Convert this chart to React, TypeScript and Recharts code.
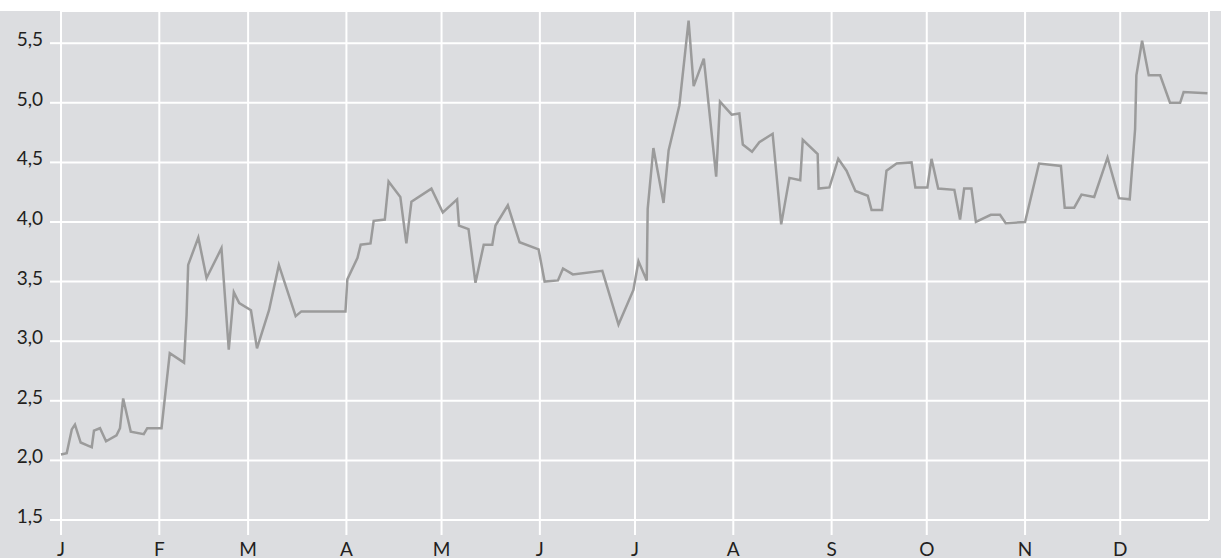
import React from 'react';
import { LineChart, Line, XAxis, YAxis, CartesianGrid } from 'recharts';

// day of year (0 = 1 Jan) and value
const days = [
  0, 1.8, 3.4, 4.4, 6.2, 9.7, 10.4, 12.3, 14.2, 17.5, 18.6, 19.6, 22.0, 26.1, 27.2, 31.7,
  34.3, 38.8, 39.6, 40.1, 43.3, 45.9, 50.6, 52.9, 54.5, 56.2, 59.9, 61.8, 65.6, 68.7, 74.0,
  75.8, 89.7, 90.3, 93.5, 94.5, 97.6, 98.6, 102.1, 103.3, 107.0, 108.9, 110.5, 116.8, 120.4,
  124.9, 125.5, 128.5, 130.7, 133.3, 136.0, 137.0, 140.9, 144.6, 150.6, 152.5, 156.7, 158.3,
  161.4, 170.7, 175.8, 180.5, 182.1, 184.7, 185.0, 186.8, 190.0, 191.6, 195.0, 197.9, 199.5,
  202.7, 206.6, 207.8, 211.5, 213.9, 215.0, 217.9, 220.2, 224.4, 227.1, 229.7, 233.1, 233.9,
  238.6, 238.9, 242.3, 245.1, 247.7, 250.5, 254.4, 255.6, 258.9, 260.3, 263.5, 268.2, 269.4,
  273.2, 274.5, 276.6, 281.7, 283.5, 284.8, 287.1, 288.5, 293.2, 296.1, 297.9, 304.0, 308.4,
  315.3, 316.5, 319.5, 321.8, 325.8, 330.0, 333.6, 337.0, 338.7, 339.1, 340.9, 343.0, 346.6,
  349.7, 352.9, 354.0, 361.5,
];

const values = [
  2.05, 2.06, 2.26, 2.30, 2.15, 2.11, 2.25, 2.27, 2.16, 2.21, 2.27, 2.52, 2.24, 2.22, 2.27, 2.27,
  2.90, 2.82, 3.22, 3.64, 3.87, 3.53, 3.78, 2.93, 3.41, 3.32, 3.26, 2.94, 3.26, 3.64, 3.21,
  3.25, 3.25, 3.52, 3.70, 3.81, 3.82, 4.01, 4.02, 4.34, 4.21, 3.82, 4.17, 4.28, 4.08,
  4.19, 3.97, 3.94, 3.49, 3.81, 3.81, 3.97, 4.14, 3.83, 3.77, 3.50, 3.51, 3.61,
  3.56, 3.59, 3.14, 3.43, 3.67, 3.51, 4.11, 4.62, 4.16, 4.60, 4.98, 5.69, 5.14,
  5.37, 4.38, 5.01, 4.90, 4.91, 4.65, 4.59, 4.67, 4.74, 3.98, 4.37, 4.35, 4.69,
  4.57, 4.28, 4.29, 4.53, 4.43, 4.26, 4.22, 4.10, 4.10, 4.43, 4.49, 4.50, 4.29,
  4.29, 4.53, 4.28, 4.27, 4.02, 4.28, 4.28, 4.00, 4.06, 4.06, 3.99, 4.00, 4.49,
  4.47, 4.12, 4.12, 4.23, 4.21, 4.54, 4.20, 4.19, 4.78, 5.23, 5.52, 5.23, 5.23,
  5.00, 5.00, 5.09, 5.08,
];

const monthStarts = [0, 31, 59, 90, 120, 151, 181, 212, 243, 273, 304, 334];
const monthLabels = ['J', 'F', 'M', 'A', 'M', 'J', 'J', 'A', 'S', 'O', 'N', 'D'];
const yTicks = [1.5, 2.0, 2.5, 3.0, 3.5, 4.0, 4.5, 5.0, 5.5];

const data = days.map((d, i) => ({ day: d, value: values[i] }));

const FONT = 'Lato, "Open Sans", sans-serif';

const YTick = (props: any) => {
  const { x, y, payload } = props;
  return (
    <text x={x} y={y + 3} textAnchor="end" fontFamily={FONT} fontSize={19} fill="#231f20">
      {payload.value.toFixed(1).replace('.', ',')}
    </text>
  );
};

const XTick = (props: any) => {
  const { x, y, payload } = props;
  const idx = monthStarts.indexOf(payload.value);
  return (
    <text x={x} y={y + 21} textAnchor="middle" fontFamily={FONT} fontSize={19} fill="#231f20">
      {monthLabels[idx]}
    </text>
  );
};

export default function App() {
  return (
    <div style={{ position: 'absolute', left: 0, top: 0, width: 1221, height: 558, background: '#fff' }}>
      <div style={{ position: 'absolute', left: 0, top: 11, width: 1221, height: 547, background: '#dcdde0' }}>
        <LineChart width={1221} height={547} data={data} margin={{ top: 0, right: 12, bottom: 0, left: 0 }}>
          <CartesianGrid stroke="#ffffff" strokeWidth={2} />
          <XAxis
            dataKey="day"
            type="number"
            domain={[0, 362]}
            ticks={monthStarts}
            height={38}
            axisLine={false}
            tickLine={{ stroke: '#ffffff', strokeWidth: 2 }}
            tickSize={15}
            tickMargin={0}
            tick={<XTick />}
            interval={0}
          />
          <YAxis
            type="number"
            domain={[1.5, 5.77]}
            ticks={yTicks}
            width={61}
            axisLine={false}
            tickLine={{ stroke: '#ffffff', strokeWidth: 2 }}
            tickSize={11}
            tickMargin={7}
            tick={<YTick />}
            interval={0}
          />
          <Line
            type="linear"
            dataKey="value"
            stroke="#9b9b9b"
            strokeWidth={2.5}
            dot={false}
            isAnimationActive={false}
          />
        </LineChart>
      </div>
    </div>
  );
}
